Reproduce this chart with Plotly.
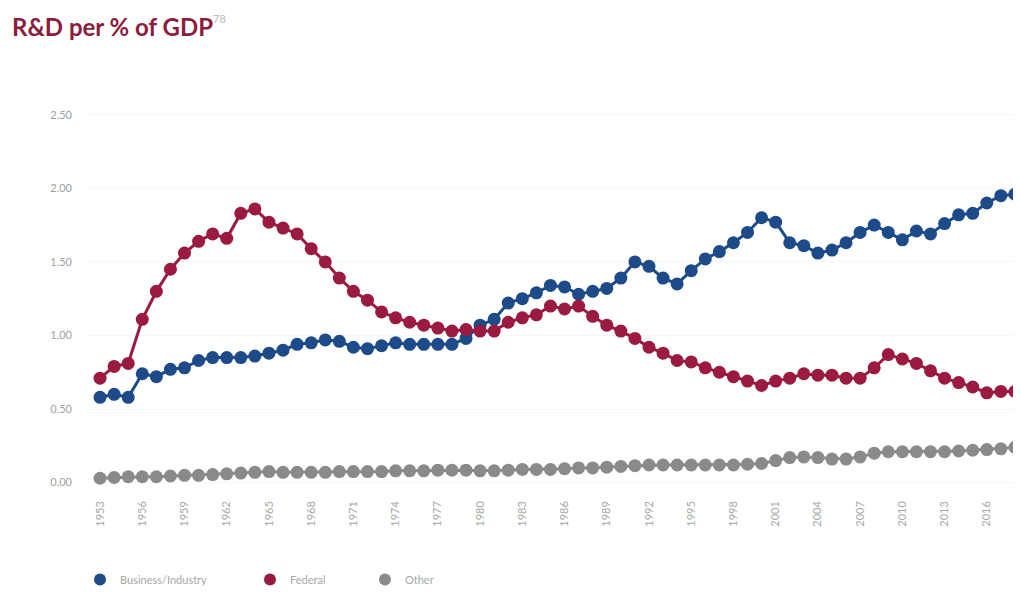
import plotly.graph_objects as go

years = list(range(1953, 2019))

business = [0.58, 0.60, 0.58, 0.74, 0.72, 0.77, 0.78, 0.83, 0.85, 0.85,
            0.85, 0.86, 0.88, 0.90, 0.94, 0.95, 0.97, 0.96, 0.92, 0.91,
            0.93, 0.95, 0.94, 0.94, 0.94, 0.94, 0.98, 1.07, 1.11, 1.22,
            1.25, 1.29, 1.34, 1.33, 1.28, 1.30, 1.32, 1.39, 1.50, 1.47,
            1.39, 1.35, 1.44, 1.52, 1.57, 1.63, 1.70, 1.80, 1.77, 1.63,
            1.61, 1.56, 1.58, 1.63, 1.70, 1.75, 1.70, 1.65, 1.71, 1.69,
            1.76, 1.82, 1.83, 1.90, 1.95, 1.96]

federal = [0.71, 0.79, 0.81, 1.11, 1.30, 1.45, 1.56, 1.64, 1.69, 1.66,
           1.83, 1.86, 1.77, 1.73, 1.69, 1.59, 1.50, 1.39, 1.30, 1.24,
           1.16, 1.12, 1.09, 1.07, 1.05, 1.03, 1.04, 1.03, 1.03, 1.09,
           1.12, 1.14, 1.20, 1.18, 1.20, 1.13, 1.07, 1.03, 0.98, 0.92,
           0.88, 0.83, 0.82, 0.78, 0.75, 0.72, 0.69, 0.66, 0.69, 0.71,
           0.74, 0.73, 0.73, 0.71, 0.71, 0.78, 0.87, 0.84, 0.81, 0.76,
           0.71, 0.68, 0.65, 0.61, 0.62, 0.62]

other = [0.03, 0.035, 0.04, 0.04, 0.04, 0.045, 0.05, 0.05, 0.055, 0.06,
         0.065, 0.07, 0.075, 0.07, 0.07, 0.07, 0.07, 0.075, 0.075, 0.075,
         0.075, 0.08, 0.08, 0.08, 0.085, 0.085, 0.085, 0.08, 0.08, 0.085,
         0.09, 0.09, 0.09, 0.095, 0.10, 0.10, 0.105, 0.11, 0.115, 0.12,
         0.12, 0.12, 0.12, 0.12, 0.12, 0.12, 0.125, 0.13, 0.15, 0.17,
         0.175, 0.17, 0.16, 0.16, 0.175, 0.20, 0.21, 0.21, 0.21, 0.21,
         0.21, 0.215, 0.22, 0.225, 0.23, 0.24]

series_names = ["Business/Industry", "Federal", "Other"]
series_colors = ["#1d4a89", "#9a1a40", "#8a8a8a"]
y_ticks = [0, 0.5, 1.0, 1.5, 2.0, 2.5]
y_tick_labels = ["0.00", "0.50", "1.00", "1.50", "2.00", "2.50"]
x_ticks = list(range(1953, 2019, 3))
title_text = "R&D per % of GDP"
title_note = "78"

FONT = "Lato, 'Open Sans', sans-serif"
legend_ids = ["legend", "legend2", "legend3"]
legend_x = [72, 242, 357]  # px positions of each legend box (figure coords)

PLOT_L, PLOT_T, PLOT_W, PLOT_H = 77, 92, 936, 390

fig = go.Figure()
for name, vals, col in zip(series_names, [business, federal, other], series_colors):
    fig.add_trace(go.Scatter(
        x=years, y=vals, mode="lines+markers", name=name,
        line=dict(color=col, width=3),
        marker=dict(color=col, size=13),
        showlegend=False, hoverinfo="x+y+name",
    ))
# legend entries (markers only), each in its own legend box
for name, col, lid in zip(series_names, series_colors, legend_ids):
    fig.add_trace(go.Scatter(
        x=[None], y=[None], mode="markers", name=name,
        marker=dict(color=col, size=13), showlegend=True, legend=lid,
    ))

legend_common = dict(
    orientation="h", xanchor="left", xref="container",
    y=0.0346, yanchor="middle", yref="container",
    font=dict(size=11, color="#a8a8a8", family=FONT),
    itemsizing="constant", bgcolor="rgba(0,0,0,0)",
)

layout_legends = {}
for lid, lx in zip(legend_ids, legend_x):
    layout_legends[lid] = dict(legend_common, x=lx / 1021)


def px_x(px):
    return (px - PLOT_L) / PLOT_W


def px_y(px):
    return 1 + (PLOT_T - px) / PLOT_H


fig.update_layout(
    width=1021, height=592,
    paper_bgcolor="white", plot_bgcolor="white",
    margin=dict(l=PLOT_L, r=8, t=PLOT_T, b=592 - PLOT_T - PLOT_H, autoexpand=False),
    font=dict(family=FONT, color="#a0a0a0", size=11),
    xaxis=dict(
        range=[1951.93, 2018.43],
        tickmode="array", tickvals=x_ticks,
        ticktext=[str(v) for v in x_ticks],
        tickangle=-90, showgrid=False, zeroline=False, showline=False,
        ticks="", ticklabelstandoff=8,
        tickfont=dict(size=11, color="#a8a8a8"),
    ),
    yaxis=dict(
        range=[-0.05, 2.6],
        tickmode="array", tickvals=y_ticks, ticktext=y_tick_labels,
        showgrid=True, gridcolor="#f6f6f6", gridwidth=1,
        zeroline=False, showline=False, ticks="", ticklabelstandoff=12,
        tickfont=dict(size=11, color="#a0a0a0"),
    ),
    annotations=[
        dict(
            text="<b>" + title_text + "</b>", xref="paper", yref="paper",
            x=px_x(2), xanchor="left", y=px_y(2), yanchor="top",
            showarrow=False,
            font=dict(family=FONT, size=24, color="#8c1c3e"),
        ),
        dict(
            text=title_note, xref="paper", yref="paper",
            x=px_x(203), xanchor="left", y=px_y(2), yanchor="top",
            showarrow=False,
            font=dict(family=FONT, size=11, color="#b8b8b8"),
        ),
    ],
    hovermode="closest",
    **layout_legends,
)

fig.write_html("out.html")
